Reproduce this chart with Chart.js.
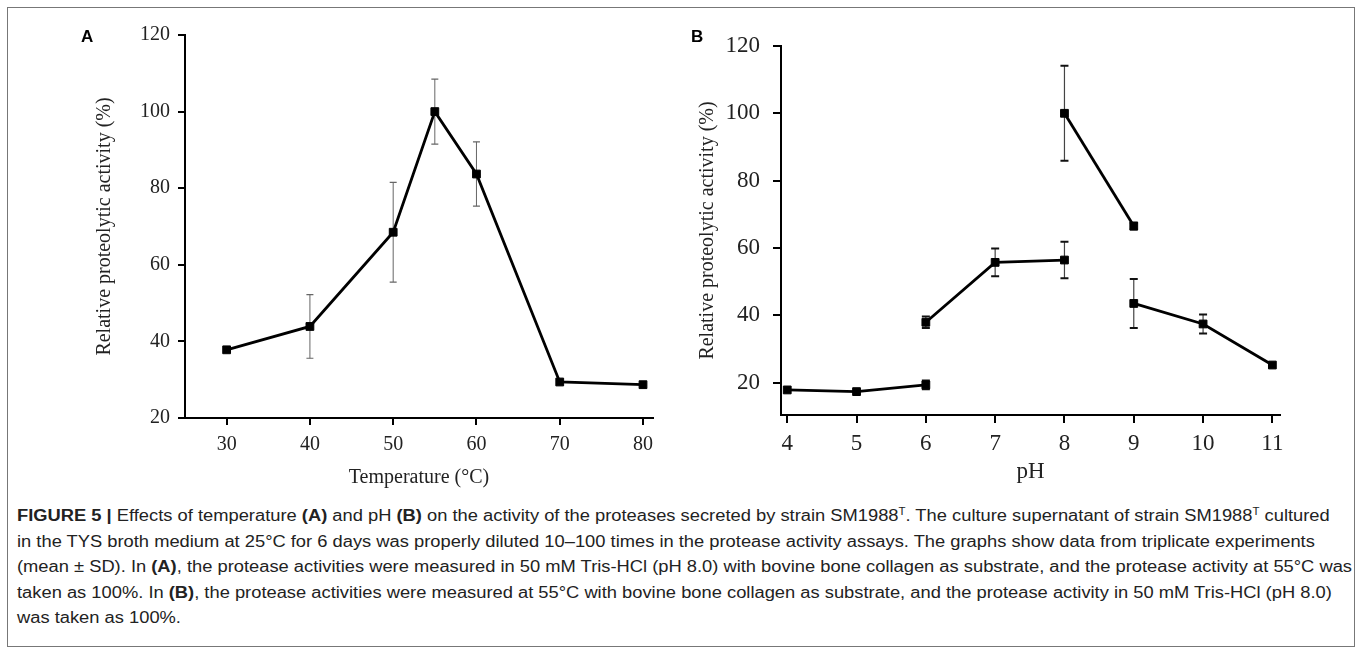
<!DOCTYPE html>
<html>
<head>
<meta charset="utf-8">
<script src="https://cdn.jsdelivr.net/npm/chart.js@4.4.1/dist/chart.umd.min.js"></script>
<style>
  body { margin: 0; background: #fff; width: 1360px; height: 654px; overflow: hidden; position: relative; }
  #frame { position: absolute; left: 7px; top: 7px; width: 1346px; height: 638px; border: 1px solid #777; }
  canvas { position: absolute; top: 0; }
  #chartA { left: 0; }
  #chartB { left: 680px; }
  .panel { position: absolute; font: bold 17px "Liberation Sans", Arial, sans-serif; color: #000; }
  #caption { position: absolute; left: 17px; top: 503px; font: 16px "Liberation Sans", Arial, sans-serif; color: #222;
             transform: scaleX(1.145); transform-origin: 0 0; }
  #caption div { height: 25.5px; line-height: 25.5px; white-space: nowrap; }
  #caption sup { font-size: 10px; line-height: 0; }
</style>
</head>
<body>
<div id="frame"></div>
<canvas id="chartA" width="680" height="500"></canvas>
<canvas id="chartB" width="680" height="500"></canvas>
<div class="panel" style="left:81px; top:27px;">A</div>
<div class="panel" style="left:691px; top:27px;">B</div>
<div id="caption">
  <div><b>FIGURE 5 |</b> Effects of temperature <b>(A)</b> and pH <b>(B)</b> on the activity of the proteases secreted by strain SM1988<sup>T</sup>. The culture supernatant of strain SM1988<sup>T</sup> cultured</div>
  <div>in the TYS broth medium at 25°C for 6 days was properly diluted 10–100 times in the protease activity assays. The graphs show data from triplicate experiments</div>
  <div>(mean ± SD). In <b>(A)</b>, the protease activities were measured in 50 mM Tris-HCl (pH 8.0) with bovine bone collagen as substrate, and the protease activity at 55°C was</div>
  <div>taken as 100%. In <b>(B)</b>, the protease activities were measured at 55°C with bovine bone collagen as substrate, and the protease activity in 50 mM Tris-HCl (pH 8.0)</div>
  <div>was taken as 100%.</div>
</div>
<script>
// Panel A: temperature
const tempX = [30, 40, 50, 55, 60, 70, 80];
const tempY = [37.8, 43.9, 68.5, 100, 83.7, 29.4, 28.7];
const tempErr = [0, 8.3, 13, 8.5, 8.4, 0, 0];
const tempTicks = [30, 40, 50, 60, 70, 80];
const activityTicksA = [20, 40, 60, 80, 100, 120];

// Panel B: pH, four separate line segments
const phLowX = [4, 5, 6];
const phLowY = [17.8, 17.3, 19.3];
const phLowErr = [0, 0, 1.3];
const phMidX = [6, 7, 8];
const phMidY = [37.9, 55.7, 56.4];
const phMidErr = [1.7, 4.1, 5.4];
const phHighX = [8, 9];
const phHighY = [100, 66.5];
const phHighErr = [14.1, 1.0];
const phAlkX = [9, 10, 11];
const phAlkY = [43.5, 37.4, 25.2];
const phAlkErr = [7.3, 2.8, 0];
const phTicks = [4, 5, 6, 7, 8, 9, 10, 11];
const activityTicksB = [20, 40, 60, 80, 100, 120];

const serif = "'Liberation Serif', 'Times New Roman', serif";

// error bars drawn behind lines and markers
const errorBars = {
  id: "errorBars",
  beforeDatasetsDraw(chart, args, opts) {
    const { ctx, scales: { x, y } } = chart;
    ctx.save();
    chart.data.datasets.forEach((ds) => {
      ds.data.forEach((p, i) => {
        const e = ds.errors[i];
        if (!e) return;
        const px = x.getPixelForValue(p.x);
        const top = y.getPixelForValue(p.y + e);
        const bot = y.getPixelForValue(p.y - e);
        ctx.strokeStyle = opts.color;
        ctx.lineWidth = opts.width;
        ctx.beginPath();
        ctx.moveTo(px, top);
        ctx.lineTo(px, bot);
        ctx.stroke();
        ctx.strokeStyle = opts.capColor;
        ctx.lineWidth = opts.capWidth;
        ctx.beginPath();
        ctx.moveTo(px - opts.cap, top);
        ctx.lineTo(px + opts.cap, top);
        ctx.moveTo(px - opts.cap, bot);
        ctx.lineTo(px + opts.cap, bot);
        ctx.stroke();
      });
    });
    ctx.restore();
  },
};

function series(xs, ys, errs) {
  return {
    data: xs.map((x, i) => ({ x: x, y: ys[i] })),
    errors: errs,
    borderColor: "#000",
    borderWidth: 2.8,
    pointStyle: "rect",
    pointRadius: 5.5,
    pointBackgroundColor: "#000",
    pointBorderColor: "#000",
    pointBorderWidth: 1,
    tension: 0,
    clip: false,
  };
}

function axisStyle(tickLen, fontSize, pad) {
  return {
    grid: { drawOnChartArea: false, drawTicks: true, tickLength: tickLen, tickColor: "#000", tickWidth: 2, lineWidth: 2 },
    border: { color: "#000", width: 2 },
    ticks: { color: "#222", font: { family: serif, size: fontSize }, padding: pad, maxRotation: 0, autoSkip: false },
  };
}

// Chart A
const axA = axisStyle(7, 20, 8);
const ayA = axisStyle(7, 20, 8);
new Chart(document.getElementById("chartA").getContext("2d"), {
  type: "line",
  data: { datasets: [series(tempX, tempY, tempErr)] },
  options: {
    responsive: false,
    animation: false,
    layout: { padding: { left: 0, right: 27, top: 35, bottom: 0 } },
    plugins: {
      legend: { display: false },
      tooltip: { enabled: false },
      errorBars: { color: "#666", width: 1, capColor: "#666", capWidth: 1.2, cap: 3.5 },
    },
    scales: {
      x: Object.assign(axA, {
        type: "linear", min: 25, max: 81.2,
        afterBuildTicks: (s) => { s.ticks = tempTicks.map((v) => ({ value: v })); },
        afterFit: (s) => { s.height = 82; },
        title: { display: true, text: "Temperature (°C)", color: "#222", font: { family: serif, size: 20 }, padding: { top: 0, bottom: 10 } },
      }),
      y: Object.assign(ayA, {
        type: "linear", min: 20, max: 120,
        afterBuildTicks: (s) => { s.ticks = activityTicksA.map((v) => ({ value: v })); },
        afterFit: (s) => { s.width = 185; },
        title: { display: true, text: "Relative proteolytic activity (%)", color: "#222", font: { family: serif, size: 20 }, padding: { top: 93, bottom: 0 } },
      }),
    },
  },
  plugins: [errorBars],
});

// Chart B
const axB = axisStyle(8, 23, 7);
const ayB = axisStyle(8, 23, 13);
new Chart(document.getElementById("chartB").getContext("2d"), {
  type: "line",
  data: {
    datasets: [
      series(phLowX, phLowY, phLowErr),
      series(phMidX, phMidY, phMidErr),
      series(phHighX, phHighY, phHighErr),
      series(phAlkX, phAlkY, phAlkErr),
    ],
  },
  options: {
    responsive: false,
    animation: false,
    layout: { padding: { left: 0, right: 80, top: 46, bottom: 0 } },
    plugins: {
      legend: { display: false },
      tooltip: { enabled: false },
      errorBars: { color: "#444", width: 1.2, capColor: "#111", capWidth: 2, cap: 4 },
    },
    scales: {
      x: Object.assign(axB, {
        type: "linear", min: 3.91, max: 11.11,
        afterBuildTicks: (s) => { s.ticks = phTicks.map((v) => ({ value: v })); },
        afterFit: (s) => { s.height = 85; },
        title: { display: true, text: "pH", color: "#222", font: { family: serif, size: 23 }, padding: { top: 0, bottom: 14 } },
      }),
      y: Object.assign(ayB, {
        type: "linear", min: 10.35, max: 120,
        afterBuildTicks: (s) => { s.ticks = activityTicksB.map((v) => ({ value: v })); },
        afterFit: (s) => { s.width = 101; },
        title: { display: true, text: "Relative proteolytic activity (%)", color: "#222", font: { family: serif, size: 20 }, padding: { top: 16, bottom: 0 } },
      }),
    },
  },
  plugins: [errorBars],
});
</script>
</body>
</html>
